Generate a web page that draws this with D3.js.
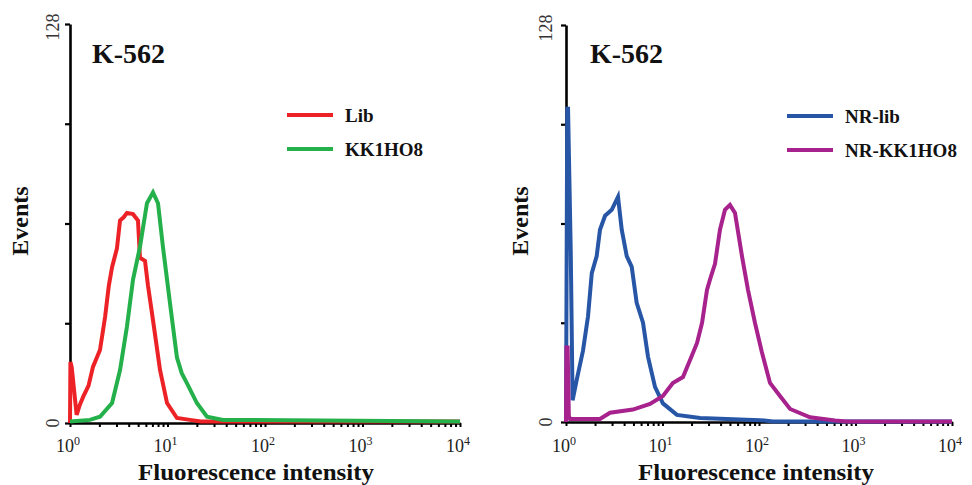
<!DOCTYPE html>
<html><head><meta charset="utf-8">
<script src="https://cdn.jsdelivr.net/npm/d3@7"></script>
<style>
body{margin:0;background:#fff;}
svg{display:block;font-family:"Liberation Serif","DejaVu Serif",serif;}
</style></head>
<body><svg id="c" width="972" height="485"></svg>
<script>
// ---- data (fluorescence intensity, events) ----
const libX = [1.0,1.01,1.04,1.17,1.25,1.36,1.55,1.72,2.03,2.29,2.50,2.70,3.03,3.26,3.55,3.84,4.43,4.98,5.22,5.88,6.31,7.10,8.38,9.89,12.5,17.0,22,10000];
const libY = [0,19.6,18,2.6,5.5,8.3,12,18,23.4,34,44,50,56,65,66,67.4,67,65,53,52,44,33,17,6.4,1.6,1,0.5,0.5];
const kkX = [1.0,1.6,2.03,2.70,3.26,3.84,4.43,5.22,5.70,6.16,7.10,7.99,8.98,10.6,12.5,14.0,15.8,20.0,25.4,37.1,10000];
const kkY = [0.5,1,2,6.4,17,31,46,56.5,64,70.5,74,70.5,56.5,38.5,21,16,12.8,6.4,2,1,0.5];
const nrLibX = [1.0,1.03,1.05,1.12,1.17,1.29,1.50,1.69,1.85,2.08,2.25,2.54,2.98,3.46,3.78,4.26,4.80,5.40,6.28,7.08,8.36,10.1,14.1,24.5,102,140,10000];
const nrLibY = [0,101,101,55,7,13.5,23,34,48,53.5,62,66.5,68.4,72.6,62,53.5,50,38.4,32,21,11.3,6,2.3,1.3,0.6,0.2,0.2];
const nrKkX = [1.0,1.01,1.04,1.07,1.1,2.25,2.86,4.94,7.42,10.1,12.8,16.3,19.3,22.8,25.7,28.9,31.1,35.0,39.4,44.4,50.0,56.4,66.6,76.9,90.8,107,130,165,210,338,613,800,10000];
const nrKkY = [0,24,24,2,1,1,3,4,5.8,8.4,12.6,14.5,20,25.5,32,42.6,46,51,62,68.4,70,67.4,53.5,42.6,32,22.6,12.6,8.4,4.2,1.5,0.5,0.2,0.2];
const yTicks = [0,32,64,96,128];
const yTickLabels = {0:"0",128:"128"};
const xMajor = [1,10,100,1000,10000];
const xExp = ["0","1","2","3","4"];
const titles = ["K-562","K-562"];
const legendNames = [["Lib","KK1HO8"],["NR-lib","NR-KK1HO8"]];
const colors = [["#ec2227","#24b04a"],["#2756a6","#a8228e"]];

const panels = [
  {x0:70, x1:460, top:24, bottom:423, series:[[libX,libY],[kkX,kkY]], legX:287, legY:115, yTitleX:20, yLabX:53, titleX:92, xTitleX:256},
  {x0:566, x1:952, top:25, bottom:422, series:[[nrLibX,nrLibY],[nrKkX,nrKkY]], legX:787, legY:116, yTitleX:520, yLabX:546, titleX:590, xTitleX:756}
];

const svg = d3.select("#c");
const minor = [];
for (let d=0; d<4; d++) for (let k=2;k<=9;k++) minor.push(k*Math.pow(10,d));

panels.forEach((p,i)=>{
  const x = d3.scaleLog().domain([1,10000]).range([p.x0,p.x1]);
  const y = d3.scaleLinear().domain([0,128]).range([p.bottom,p.top]);
  const g = svg.append("g");

  // y axis
  const ya = g.append("g").attr("transform",`translate(${p.x0},0)`)
    .call(d3.axisLeft(y).tickValues(yTicks).tickSize(5).tickSizeOuter(0).tickFormat(()=>""));
  ya.select(".domain").attr("stroke","#000").attr("stroke-width",2.6);
  ya.selectAll(".tick line").attr("stroke","#000").attr("stroke-width",2.2);
  yTicks.filter(t=>yTickLabels[t]!==undefined).forEach(t=>{
    g.append("text").attr("transform",`translate(${p.yLabX},${y(t)+ (t===128?3:0)}) rotate(-90)`)
      .attr("text-anchor","middle").attr("dominant-baseline","central")
      .attr("font-size",18).attr("fill","#333").text(yTickLabels[t]);
  });

  // x axis
  const xa = g.append("g").attr("transform",`translate(0,${p.bottom})`)
    .call(d3.axisBottom(x).tickValues(minor.concat(xMajor)).tickSize(4).tickSizeOuter(0).tickFormat(()=>""));
  xa.select(".domain").attr("stroke","#000").attr("stroke-width",2.6);
  xa.selectAll(".tick line").attr("stroke","#000").attr("stroke-width",2);
  xMajor.forEach((v,j)=>{
    const t = g.append("text").attr("x",x(v)-2).attr("y",452).attr("text-anchor","middle")
      .attr("font-size",18).attr("fill","#222");
    t.append("tspan").text("10");
    t.append("tspan").attr("dy",-7).attr("font-size",12).text(xExp[j]);
  });

  // axis titles
  g.append("text").attr("x",p.xTitleX).attr("y",480).attr("text-anchor","middle")
    .attr("font-size",23).attr("font-weight","bold").attr("fill","#111")
    .attr("textLength",236).attr("lengthAdjust","spacingAndGlyphs").text("Fluorescence intensity");
  g.append("text").attr("transform",`translate(${p.yTitleX},221) rotate(-90)`).attr("text-anchor","middle")
    .attr("dominant-baseline","central").attr("font-size",24).attr("font-weight","bold").attr("fill","#111").text("Events");

  // title
  g.append("text").attr("x",p.titleX).attr("y",63).attr("font-size",28).attr("font-weight","bold")
    .attr("fill","#111").text(titles[i]);

  // curves
  const line = d3.line().x(d=>x(d[0])).y(d=>y(d[1]));
  p.series.forEach((s,k)=>{
    const pts = s[0].map((v,n)=>[v,s[1][n]]);
    g.append("path").datum(pts).attr("d",line).attr("fill","none")
      .attr("stroke",colors[i][k]).attr("stroke-width",4).attr("stroke-linejoin","miter");
  });

  // legend
  legendNames[i].forEach((name,k)=>{
    const ly = p.legY + k*34;
    g.append("line").attr("x1",p.legX).attr("x2",p.legX+46).attr("y1",ly).attr("y2",ly)
      .attr("stroke",colors[i][k]).attr("stroke-width",4);
    g.append("text").attr("x",p.legX+58).attr("y",ly+7).attr("font-size",19).attr("font-weight","bold")
      .attr("fill","#111").text(name);
  });
});
</script></body></html>
